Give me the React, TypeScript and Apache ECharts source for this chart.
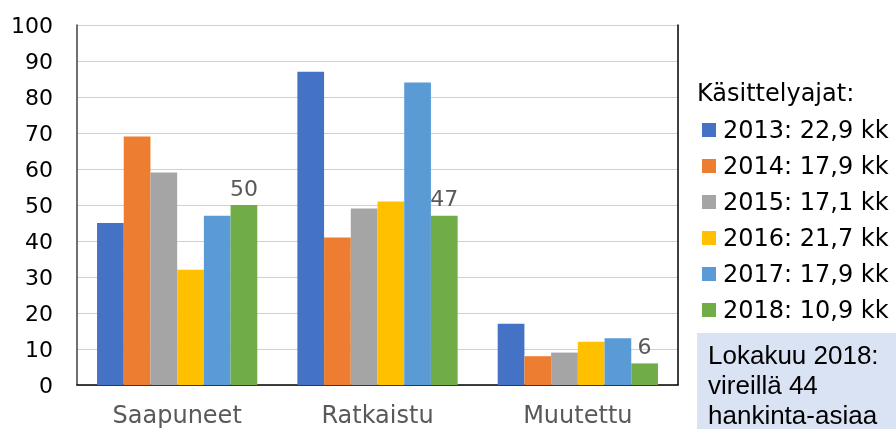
import React, { useEffect, useRef } from "react";
import * as echarts from "echarts";

const categories = ["Saapuneet", "Ratkaistu", "Muutettu"];
const seriesNames = [
  "2013: 22,9 kk",
  "2014: 17,9 kk",
  "2015: 17,1 kk",
  "2016: 21,7 kk",
  "2017: 17,9 kk",
  "2018: 10,9 kk",
];
const values2013 = [45, 87, 17];
const values2014 = [69, 41, 8];
const values2015 = [59, 49, 9];
const values2016 = [32, 51, 12];
const values2017 = [47, 84, 13];
const values2018 = [50, 47, 6];
const seriesColors = ["#4472C4", "#ED7D31", "#A5A5A5", "#FFC000", "#5B9BD5", "#70AD47"];
const legendTitle = "Käsittelyajat:";
const noteText = "Lokakuu 2018:\nvireillä 44\nhankinta-asiaa";

const FONT = "DejaVu Sans, Verdana, sans-serif";

export default function App() {
  const ref = useRef<HTMLDivElement>(null);
  useEffect(() => {
    if (!ref.current) return;
    const chart = echarts.init(ref.current, undefined, { renderer: "svg" });
    const allValues = [values2013, values2014, values2015, values2016, values2017, values2018];
    const series = allValues.map((vals, i) => ({
      name: seriesNames[i],
      type: "bar",
      data: vals,
      barGap: "0%",
      barCategoryGap: "20%",
      itemStyle: { color: seriesColors[i] },
      label:
        i === allValues.length - 1
          ? {
              show: true,
              position: "top",
              distance: 6,
              fontSize: 22,
              fontFamily: FONT,
              color: "#595959",
            }
          : { show: false },
    }));
    chart.setOption({
      animation: false,
      title: {
        text: legendTitle,
        left: 697,
        top: 81,
        padding: 0,
        textStyle: {
          fontSize: 24,
          lineHeight: 24,
          fontWeight: "normal",
          color: "#000",
          fontFamily: FONT,
        },
      },
      legend: {
        orient: "vertical",
        left: 702,
        top: 118,
        padding: 0,
        itemWidth: 14,
        itemHeight: 14,
        itemGap: 12,
        icon: "rect",
        data: seriesNames,
        textStyle: {
          fontSize: 24,
          lineHeight: 24,
          color: "#000",
          fontFamily: FONT,
          padding: [0, 0, 0, 2],
        },
      },
      grid: { left: 77, right: 218, top: 25, bottom: 44 },
      xAxis: [
        {
          type: "category",
          data: categories,
          axisLine: { show: true, lineStyle: { color: "#D9D9D9", width: 1 } },
          axisTick: { show: false },
          axisLabel: {
            fontSize: 24,
            fontFamily: FONT,
            color: "#595959",
            margin: 18,
          },
        },
        {
          type: "category",
          position: "top",
          data: categories,
          axisLine: { show: true, lineStyle: { color: "#000", width: 1.5 } },
          axisTick: { show: false },
          axisLabel: { show: false },
        },
      ],
      yAxis: [
        {
          type: "value",
          min: 0,
          max: 100,
          interval: 10,
          axisLine: { show: true, lineStyle: { color: "#404040", width: 1.5 } },
          axisTick: { show: false },
          splitLine: { lineStyle: { color: "#D0D0D0", width: 1 } },
          axisLabel: {
            fontSize: 22,
            fontFamily: FONT,
            color: "#000",
            margin: 24,
          },
        },
        {
          type: "value",
          position: "right",
          min: 0,
          max: 100,
          interval: 10,
          axisLine: { show: true, lineStyle: { color: "#000", width: 1.5 } },
          axisTick: { show: false },
          splitLine: { show: false },
          axisLabel: { show: false },
        },
      ],
      series,
      graphic: [
        {
          type: "rect",
          x: 697,
          y: 333,
          shape: { x: 0, y: 0, width: 199, height: 96 },
          style: { fill: "#DAE3F3" },
        },
        {
          type: "text",
          x: 708,
          y: 340,
          style: {
            text: noteText,
            fontSize: 26,
            lineHeight: 30,
            fontFamily: "Liberation Sans, Arial, sans-serif",
            fill: "#000",
            verticalAlign: "top",
          },
        },
      ],
    });
    return () => chart.dispose();
  }, []);
  return (
    <div
      ref={ref}
      style={{ position: "fixed", left: 0, top: 0, width: 896, height: 429 }}
    />
  );
}
